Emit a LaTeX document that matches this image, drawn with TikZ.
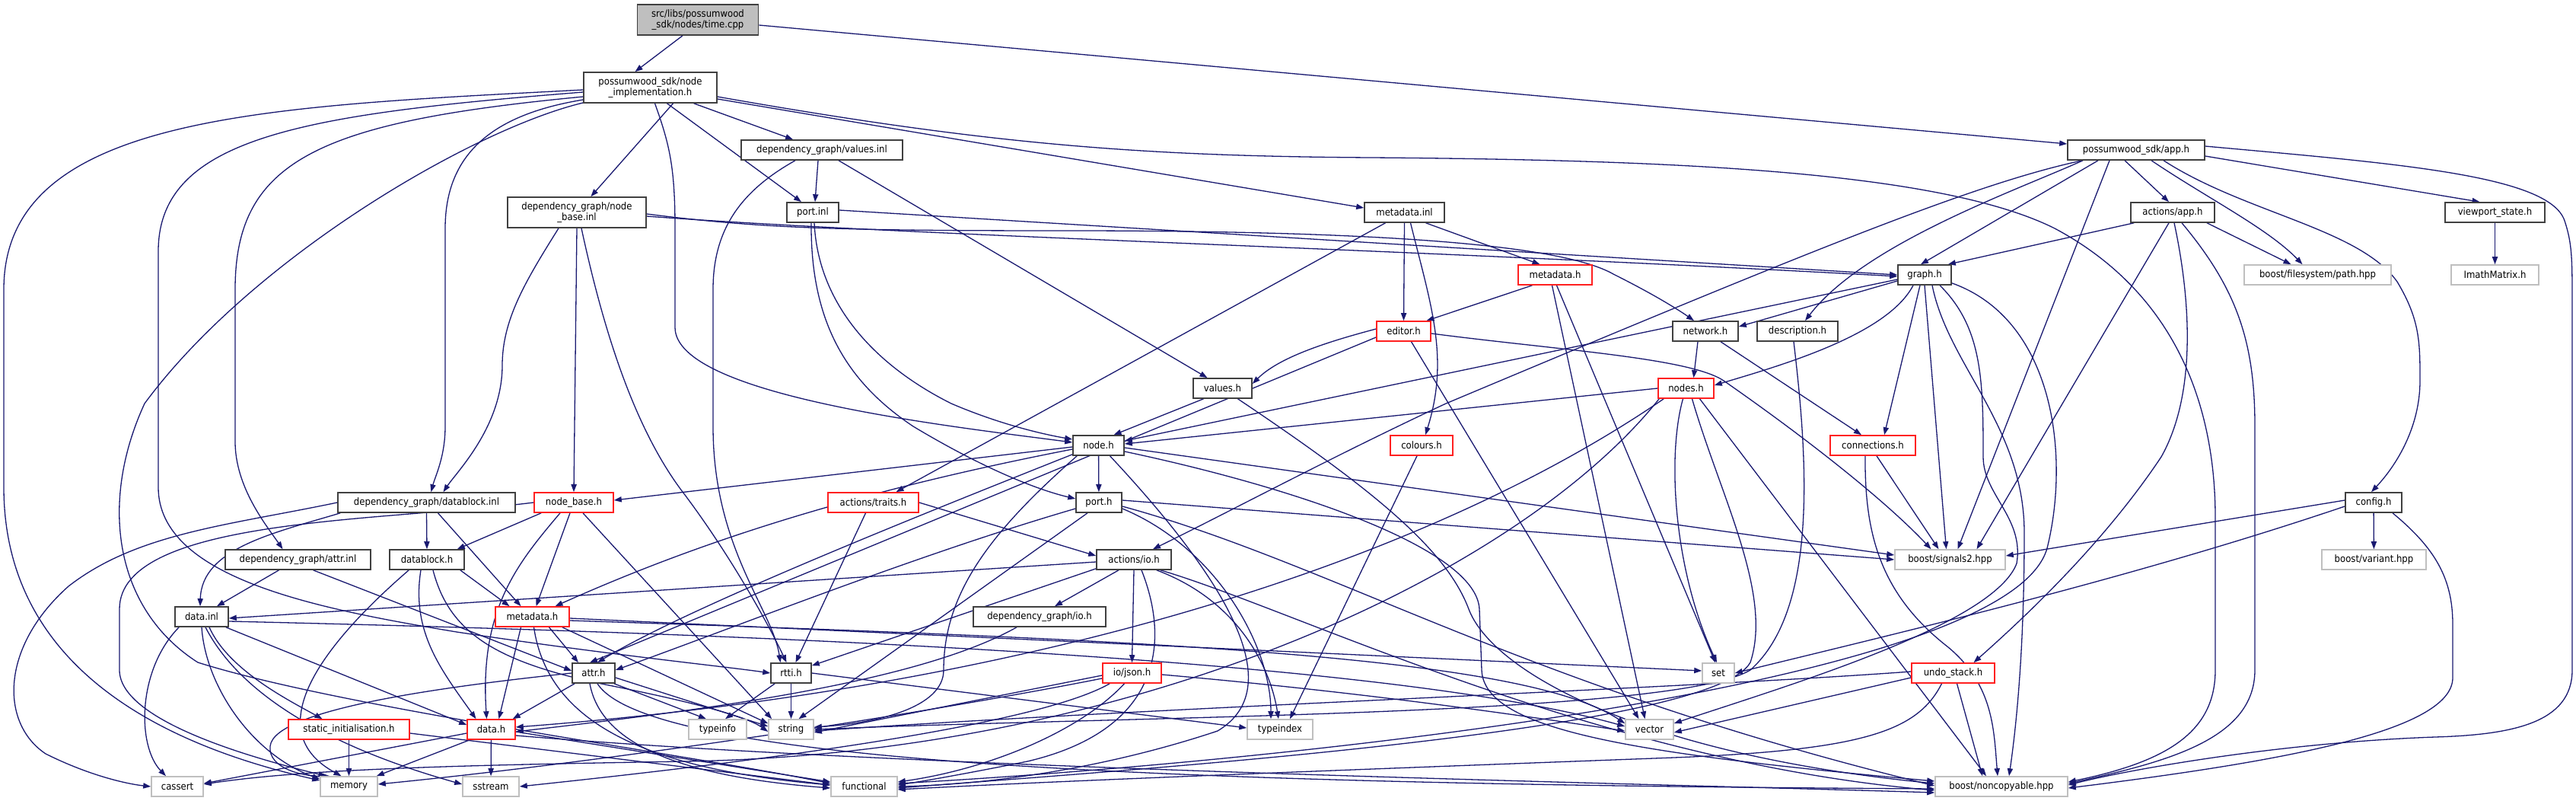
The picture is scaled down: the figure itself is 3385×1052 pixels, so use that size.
\documentclass[tikz,border=0pt]{standalone}
\usepackage{fontspec}
\setmainfont{DejaVu Sans Condensed}
\usetikzlibrary{arrows.meta,calc}
\definecolor{edgec}{HTML}{191970}
\definecolor{redb}{HTML}{FF2020}
\definecolor{grayb}{HTML}{BFBFBF}
\definecolor{darkb}{HTML}{404040}
\definecolor{fillg}{HTML}{BFBFBF}
\pgfdeclarelayer{bg}
\pgfsetlayers{bg,main}
\tikzset{
  bx/.style={draw=darkb, line width=0.8pt, fill=white, inner sep=0pt, minimum height=13pt, align=center, font=\fontsize{6.5}{7.1}\selectfont},
  rbx/.style={bx, draw=redb},
  gbx/.style={bx, draw=grayb},
  tall/.style={minimum height=20pt},
  ed/.style={draw=edgec, line width=0.65pt, -{Triangle[length=5pt,width=3.6pt]}},
}
\begin{document}
\begin{tikzpicture}[x=0.5pt,y=-0.5pt]
\useasboundingbox (0,0) rectangle (3385,1052);
% nodes
\node[bx,tall,fill=fillg,minimum width=79.5pt] (time) at (917,26) {src/libs/possumwood\\\_sdk/nodes/time.cpp};
\node[bx,tall,minimum width=87.5pt] (nimpl) at (854.5,115) {possumwood\_sdk/node\\\_implementation.h};
\node[bx,minimum width=106pt] (valinl) at (1080,197) {dependency\_graph/values.inl};
\node[bx,minimum width=34pt] (portinl) at (1068,279) {port.inl};
\node[bx,tall,minimum width=91pt] (nbinl) at (758,279) {dependency\_graph/node\\\_base.inl};
\node[bx,minimum width=52.5pt] (mdinl) at (1845.5,279) {metadata.inl};
\node[rbx,minimum width=48.5pt] (mdsdk) at (2043.5,361) {metadata.h};
\node[rbx,minimum width=35.5pt] (editor) at (1844.5,435) {editor.h};
\node[bx,minimum width=43pt] (network) at (2241,435) {network.h};
\node[bx,minimum width=53pt] (descr) at (2362,435) {description.h};
\node[bx,minimum width=35pt] (graph) at (2529,361) {graph.h};
\node[rbx,minimum width=36.5pt] (nodes) at (2215.5,510) {nodes.h};
\node[bx,minimum width=90pt] (app) at (2807,197) {possumwood\_sdk/app.h};
\node[bx,minimum width=55pt] (actapp) at (2855,279) {actions/app.h};
\node[gbx,minimum width=96.5pt] (path) at (3045.5,361) {boost/filesystem/path.hpp};
\node[bx,minimum width=65.5pt] (viewport) at (3278.5,279) {viewport\_state.h};
\node[gbx,minimum width=57.5pt] (imath) at (3278.5,361) {ImathMatrix.h};
\node[bx,minimum width=38.5pt] (valh) at (1606.5,510) {values.h};
\node[bx,minimum width=116.5pt] (dbinl) at (560.5,660) {dependency\_graph/datablock.inl};
\node[rbx,minimum width=52pt] (nbh) at (754,660) {node\_base.h};
\node[bx,minimum width=95.5pt] (attrinl) at (391.5,735) {dependency\_graph/attr.inl};
\node[bx,minimum width=49pt] (dbh) at (561,735) {datablock.h};
\node[bx,minimum width=35pt] (datainl) at (265,810) {data.inl};
\node[rbx,minimum width=48.5pt] (mddg) at (699.5,810) {metadata.h};
\node[bx,minimum width=28pt] (attrh) at (780,884) {attr.h};
\node[rbx,minimum width=79.5pt] (statinit) at (458.5,958) {static\_initialisation.h};
\node[rbx,minimum width=31.5pt] (datah) at (645.5,958) {data.h};
\node[gbx,minimum width=34pt] (cassert) at (233,1033) {cassert};
\node[gbx,minimum width=37.5pt] (memory) at (458.5,1033) {memory};
\node[gbx,minimum width=37pt] (sstream) at (645,1033) {sstream};
\node[bx,minimum width=33.5pt] (nodeh) at (1443.5,585) {node.h};
\node[rbx,minimum width=59.5pt] (traits) at (1147.5,660) {actions/traits.h};
\node[bx,minimum width=30pt] (porth) at (1444,660) {port.h};
\node[bx,minimum width=49pt] (actio) at (1490,735) {actions/io.h};
\node[bx,minimum width=87pt] (dgio) at (1366,810) {dependency\_graph/io.h};
\node[bx,minimum width=26.5pt] (rtti) at (1039.5,884) {rtti.h};
\node[rbx,minimum width=38.5pt] (json) at (1487.5,884) {io/json.h};
\node[gbx,minimum width=38pt] (typeinfo) at (943,958) {typeinfo};
\node[gbx,minimum width=29.5pt] (string) at (1039.5,958) {string};
\node[gbx,minimum width=43pt] (typeindex) at (1682,958) {typeindex};
\node[gbx,minimum width=43.5pt] (functional) at (1135.5,1033) {functional};
\node[rbx,minimum width=41pt] (colours) at (1868,585) {colours.h};
\node[rbx,minimum width=56pt] (conn) at (2461,585) {connections.h};
\node[gbx,minimum width=72.5pt] (signals) at (2562.5,735) {boost/signals2.hpp};
\node[gbx,minimum width=21pt] (set) at (2258,884) {set};
\node[gbx,minimum width=31.5pt] (vector) at (2167.5,958) {vector};
\node[rbx,minimum width=54.5pt] (undo) at (2566.5,884) {undo\_stack.h};
\node[gbx,minimum width=87pt] (noncop) at (2630,1033) {boost/noncopyable.hpp};
\node[bx,minimum width=37pt] (config) at (3119,660) {config.h};
\node[gbx,minimum width=68.5pt] (variant) at (3119.5,735) {boost/variant.hpp};

\begin{pgfonlayer}{bg}
% time.cpp
\draw[ed] ($(time.south)+(-20,0)$) -- ($(nimpl.north)+(-20,0)$);
\draw[ed] ($(time.east)+(0,7)$) -- ($(app.west)+(0,-8)$);
% node_implementation.h
\draw[ed] (nimpl) -- (valinl);
\draw[ed] ($(nimpl.south)+(22,0)$) -- ($(portinl.north)+(-15,0)$);
\draw[ed] ($(nimpl.south)+(30,0)$) -- (nbinl);
\draw[ed] ($(nimpl.east)+(0,15)$) -- ($(mdinl.west)+(0,-6)$);
\draw[ed] ($(nimpl.west)+(0,16)$) .. controls (650,150) and (585,200) .. (585,300) -- (585,560) .. controls (585,600) and (572,625) .. ($(dbinl.north)+(6,0)$);
\draw[ed] ($(nimpl.west)+(0,12)$) .. controls (420,160) and (309,210) .. (309,380) -- (309,580) .. controls (309,640) and (350,690) .. ($(attrinl.north)+(-20,0)$);
\draw[ed] ($(nimpl.west)+(0,3)$) .. controls (350,140) and (5,150) .. (5,380) -- (5,640) .. controls (5,880) and (220,980) .. ($(memory.west)+(0,-8)$);
\draw[ed] ($(nimpl.west)+(0,20)$) .. controls (620,170) and (330,340) .. (190,530) .. controls (130,660) and (150,800) .. (260,870) .. controls (450,930) and (900,990) .. ($(functional.west)+(0,-4)$);
\draw[ed] ($(nimpl.west)+(0,6)$) .. controls (400,150) and (208,180) .. (208,330) -- (208,640) .. controls (208,760) and (420,800) .. (600,830) .. controls (800,860) and (950,875) .. (rtti.west);
\draw[ed] ($(nimpl.south)+(6,0)$) .. controls (880,190) and (887,220) .. (887,300) -- (887,430) .. controls (887,520) and (1250,560) .. ($(nodeh.west)+(0,-4)$);
\draw[ed] ($(nimpl.east)+(0,12)$) .. controls (1300,190) and (1500,205) .. (1800,207) .. controls (2200,210) and (2550,225) .. (2700,300) .. controls (2850,380) and (2911,520) .. (2911,680) -- (2911,880) .. controls (2911,960) and (2850,1000) .. ($(noncop.east)+(0,-6)$);
% values.inl
\draw[ed] ($(valinl.south)+(-5,0)$) -- ($(portinl.north)+(3,0)$);
\draw[ed] ($(valinl.south)+(22,0)$) -- ($(valh.north)+(-20,0)$);
\draw[ed] ($(valinl.south)+(-35,0)$) .. controls (975,250) and (937,300) .. (937,380) -- (937,560) .. controls (937,720) and (1015,800) .. ($(rtti.north)+(-14,0)$);
% port.inl
\draw[ed] ($(portinl.east)+(0,-3)$) -- (graph.west);
\draw[ed] ($(portinl.south)+(2,0)$) .. controls (1075,400) and (1150,480) .. (1250,530) .. controls (1320,560) and (1380,572) .. ($(nodeh.west)+(0,-8)$);
\draw[ed] ($(portinl.south)+(-2,0)$) .. controls (1065,420) and (1110,500) .. (1200,560) .. controls (1300,620) and (1370,645) .. ($(porth.west)+(0,-5)$);
% node_base.inl
\draw[ed] ($(nbinl.south)+(-24,0)$) .. controls (690,370) and (660,420) .. (660,480) .. controls (660,560) and (600,620) .. ($(dbinl.north)+(22,0)$);
\draw[ed] (nbinl.south) -- (nbh.north);
\draw[ed] ($(nbinl.south)+(6,0)$) .. controls (790,420) and (830,560) .. (900,650) .. controls (960,730) and (1010,820) .. ($(rtti.north)+(-6,0)$);
\draw[ed] ($(nbinl.east)+(0,5)$) .. controls (1200,310) and (1800,325) .. ($(graph.west)+(0,2)$);
\draw[ed] ($(nbinl.east)+(0,2)$) .. controls (1000,300) and (1100,303) .. (1400,303) .. controls (1800,303) and (2050,320) .. (2120,360) .. controls (2180,390) and (2210,410) .. ($(network.north)+(-15,0)$);
% metadata.inl
\draw[ed] (mdinl.south) -- (editor.north);
\draw[ed] ($(mdinl.south)+(28,0)$) -- ($(mdsdk.north)+(-20,0)$);
\draw[ed] ($(mdinl.south)+(8,0)$) .. controls (1880,400) and (1905,470) .. ($(colours.north)+(5,0)$);
\draw[ed] ($(mdinl.south)+(-25,0)$) -- ($(traits.north)+(30,0)$);
% metadata.h (sdk)
\draw[ed] ($(mdsdk.south)+(-30,0)$) -- ($(editor.north)+(30,0)$);
\draw[ed] ($(mdsdk.south)+(-4,0)$) -- ($(vector.north)+(-6,0)$);
\draw[ed] ($(mdsdk.south)+(2,0)$) -- ($(set.north)+(-4,0)$);
% editor.h
\draw[ed] ($(editor.west)+(0,-3)$) .. controls (1740,450) and (1680,470) .. ($(valh.east)+(0,-6)$);
\draw[ed] ($(editor.west)+(0,8)$) -- ($(attrh.north)+(-5,0)$);
\draw[ed] ($(editor.south)+(10,0)$) -- ($(vector.north)+(-14,0)$);
\draw[ed] ($(editor.east)+(0,3)$) .. controls (2050,460) and (2220,470) .. (2265,500) .. controls (2380,580) and (2480,660) .. ($(signals.north)+(-25,0)$);
% values.h
\draw[ed] ($(valh.south)+(-25,0)$) -- ($(nodeh.north)+(20,0)$);
\draw[ed] ($(valh.south)+(20,0)$) .. controls (1800,640) and (1900,720) .. (1930,800) .. controls (1960,880) and (2150,990) .. ($(noncop.west)+(0,-4)$);
% app.h
\draw[ed] ($(app.south)+(-15,0)$) -- ($(actapp.north)+(-5,0)$);
\draw[ed] ($(app.east)+(0,8)$) -- ($(viewport.north)+(-20,0)$);
\draw[ed] ($(app.south)+(-50,0)$) -- ($(graph.north)+(-5,0)$);
\draw[ed] ($(app.south)+(20,0)$) .. controls (2900,260) and (2980,300) .. ($(path.north)+(-20,0)$);
\draw[ed] ($(app.south)+(-35,0)$) -- ($(signals.north)+(10,0)$);
\draw[ed] ($(app.east)+(0,-5)$) .. controls (3150,215) and (3350,230) .. (3370,290) .. controls (3380,320) and (3380,340) .. (3380,400) -- (3380,880) .. controls (3380,950) and (3300,965) .. (3200,968) .. controls (3000,975) and (2800,1010) .. ($(noncop.east)+(0,-2)$);
\draw[ed] ($(app.south)+(36,0)$) .. controls (2950,280) and (3100,300) .. (3150,370) .. controls (3180,420) and (3180,450) .. (3180,500) .. controls (3180,560) and (3150,610) .. ($(config.north)+(-3,0)$);
\draw[ed] ($(app.south)+(-70,0)$) .. controls (2650,250) and (2450,320) .. ($(descr.north)+(10,0)$);
\draw[ed] ($(app.south west)+(20,0)$) .. controls (2600,240) and (2400,320) .. (1900,530) .. controls (1750,600) and (1600,680) .. ($(actio.north)+(25,0)$);
% actions/app.h
\draw[ed] ($(actapp.south west)+(5,0)$) -- ($(graph.north east)+(-5,0)$);
\draw[ed] ($(actapp.south)+(45,0)$) -- ($(path.north)+(-35,0)$);
\draw[ed] ($(actapp.south)+(-5,0)$) -- ($(signals.north)+(35,0)$);
\draw[ed] ($(actapp.south)+(2,0)$) .. controls (2880,400) and (2885,520) .. (2840,600) .. controls (2760,720) and (2650,820) .. ($(undo.north)+(27,0)$);
\draw[ed] ($(actapp.south)+(12,0)$) .. controls (2940,380) and (2963,450) .. (2963,560) -- (2963,880) .. controls (2963,970) and (2850,1000) .. ($(noncop.east)+(0,-4)$);
% viewport
\draw[ed] (viewport) -- (imath);
% config
\draw[ed] ($(config.west)+(0,-3)$) -- ($(signals.east)+(0,-5)$);
\draw[ed] ($(config.west)+(0,5)$) .. controls (2800,760) and (2500,830) .. (set.east);
\draw[ed] (config) -- (variant);
\draw[ed] ($(config.south)+(25,0)$) .. controls (3200,720) and (3223,760) .. (3223,820) -- (3223,890) .. controls (3223,960) and (3000,1000) .. ($(noncop.east)+(0,2)$);
% graph.h
\draw[ed] ($(graph.west)+(0,8)$) -- ($(network.east)+(0,-6)$);
\draw[ed] ($(graph.south)+(-15,0)$) .. controls (2480,440) and (2340,480) .. ($(nodes.east)+(0,-4)$);
\draw[ed] ($(graph.west)+(0,6)$) -- ($(nodeh.east)+(0,-6)$);
\draw[ed] ($(graph.south)+(-6,0)$) -- ($(conn.north)+(15,0)$);
\draw[ed] ($(graph.south)+(0,0)$) -- ($(signals.north)+(-5,0)$);
\draw[ed] ($(graph.south)+(20,0)$) .. controls (2605,430) and (2606,500) .. (2606,600) .. controls (2606,650) and (2660,680) .. (2650,740) .. controls (2620,820) and (2350,900) .. ($(vector.east)+(0,-8)$);
\draw[ed] ($(graph.south)+(10,0)$) .. controls (2560,480) and (2660,560) .. (2660,700) .. controls (2660,850) and (2650,950) .. ($(noncop.north)+(10,0)$);
\draw[ed] ($(graph.south east)+(0,-3)$) .. controls (2700,420) and (2720,600) .. (2690,720) .. controls (2640,900) and (1700,1000) .. ($(functional.east)+(0,-4)$);
% network.h
\draw[ed] ($(network.south)+(-10,0)$) -- ($(nodes.north)+(10,0)$);
\draw[ed] ($(network.south)+(20,0)$) -- ($(conn.north)+(-15,0)$);
% description.h
\draw[ed] ($(descr.south)+(-5,0)$) .. controls (2375,600) and (2390,800) .. (2300,880) .. controls (2200,940) and (1500,940) .. (string.east);
% nodes.h
\draw[ed] (nodes.west) -- ($(nodeh.east)+(0,-2)$);
\draw[ed] ($(nodes.south west)+(8,0)$) .. controls (1900,720) and (1400,900) .. ($(datah.east)+(0,-3)$);
\draw[ed] ($(nodes.south)+(-4,0)$) .. controls (2190,600) and (2200,750) .. ($(set.north)+(-2,0)$);
\draw[ed] ($(nodes.south)+(8,0)$) .. controls (2260,650) and (2330,780) .. (2300,870) .. controls (2250,960) and (1500,1010) .. ($(functional.east)+(0,2)$);
\draw[ed] ($(nodes.south)+(18,0)$) -- ($(noncop.north)+(-20,0)$);
\draw[ed] ($(nodes.south west)+(2,0)$) .. controls (2000,750) and (1500,990) .. (900,1000) .. controls (600,1005) and (400,1010) .. ($(cassert.east)+(0,-3)$);
% connections
\draw[ed] ($(conn.south)+(5,0)$) -- ($(signals.north)+(-15,0)$);
\draw[ed] ($(conn.south)+(-10,0)$) .. controls (2450,700) and (2470,780) .. (2560,850) .. controls (2620,900) and (2620,960) .. ($(noncop.north)+(-5,0)$);
% colours
\draw[ed] ($(colours.south)+(-6,0)$) -- ($(typeindex.north)+(13,0)$);
% undo_stack
\draw[ed] ($(undo.west)+(0,-2)$) .. controls (2200,905) and (1500,930) .. ($(string.east)+(0,2)$);
\draw[ed] ($(undo.west)+(0,6)$) -- ($(vector.east)+(0,4)$);
\draw[ed] ($(undo.south)+(-15,0)$) .. controls (2520,960) and (2450,985) .. (2200,995) .. controls (1800,1010) and (1400,1025) .. ($(functional.east)+(0,4)$);
\draw[ed] ($(undo.south)+(5,0)$) -- ($(noncop.north)+(-25,0)$);
% node.h
\draw[ed] (nodeh) -- (porth);
\draw[ed] ($(nodeh.west)+(0,2)$) -- ($(nbh.east)+(0,-3)$);
\draw[ed] ($(nodeh.west)+(0,5)$) .. controls (1100,650) and (900,720) .. ($(mddg.north)+(30,0)$);
\draw[ed] ($(nodeh.south west)+(0,-2)$) .. controls (1200,680) and (900,800) .. ($(attrh.north)+(5,0)$);
\draw[ed] ($(nodeh.south west)+(6,0)$) .. controls (1300,700) and (1240,780) .. (1240,880) .. controls (1240,930) and (1150,950) .. ($(string.east)+(0,-3)$);
\draw[ed] ($(nodeh.east)+(0,3)$) -- ($(signals.west)+(0,-6)$);
\draw[ed] ($(nodeh.east)+(0,8)$) .. controls (1700,640) and (1940,720) .. (1944,800) -- (1947,880) .. controls (1950,960) and (2150,990) .. ($(noncop.west)+(0,-7)$);
\draw[ed] ($(nodeh.south)+(15,0)$) .. controls (1600,750) and (1700,900) .. (1600,960) .. controls (1450,1010) and (1300,1030) .. (functional.east);
% port.h
\draw[ed] ($(porth.west)+(0,8)$) .. controls (1200,730) and (950,830) .. ($(attrh.east)+(0,-4)$);
\draw[ed] ($(porth.south)+(-15,0)$) -- ($(string.north)+(10,0)$);
\draw[ed] ($(porth.east)+(0,-3)$) -- ($(signals.west)+(0,0)$);
\draw[ed] ($(porth.east)+(0,8)$) .. controls (1600,720) and (1670,850) .. ($(typeindex.north)+(-12,0)$);
\draw[ed] ($(porth.east)+(0,5)$) .. controls (1750,740) and (2000,900) .. ($(noncop.west)+(0,-1)$);
% actions/traits.h
\draw[ed] ($(traits.south)+(-10,0)$) -- ($(rtti.north)+(6,0)$);
\draw[ed] (traits.east) -- ($(actio.west)+(0,-5)$);
% actions/io.h
\draw[ed] ($(actio.west)+(0,3)$) -- ($(datainl.east)+(0,2)$);
\draw[ed] ($(actio.south west)+(0,-2)$) -- ($(rtti.north east)+(0,4)$);
\draw[ed] ($(actio.south)+(-20,0)$) -- ($(dgio.north)+(20,0)$);
\draw[ed] (actio.south) -- (json.north);
\draw[ed] ($(actio.south)+(10,0)$) .. controls (1540,850) and (1520,960) .. (1350,1000) .. controls (1250,1020) and (1200,1028) .. ($(functional.east)+(0,-2)$);
\draw[ed] ($(actio.south east)+(-20,0)$) .. controls (1630,790) and (1670,880) .. ($(typeindex.north)+(-2,0)$);
\draw[ed] ($(actio.south east)+(-15,0)$) .. controls (1700,800) and (2100,1000) .. ($(noncop.west)+(0,5)$);
% dependency_graph/io.h
\draw[ed] ($(dgio.south)+(-30,0)$) .. controls (1200,900) and (900,935) .. ($(datah.east)+(0,3)$);
% io/json.h
\draw[ed] ($(json.west)+(0,3)$) -- ($(string.east)+(0,4)$);
\draw[ed] ($(json.west)+(0,7)$) .. controls (1200,940) and (800,1000) .. ($(memory.east)+(0,-3)$);
\draw[ed] ($(json.south west)+(10,0)$) .. controls (1350,960) and (900,1010) .. (sstream.east);
\draw[ed] ($(json.south)+(-10,0)$) .. controls (1420,960) and (1300,1010) .. ($(functional.east)+(0,-6)$);
\draw[ed] ($(json.east)+(0,2)$) .. controls (1800,910) and (2000,940) .. ($(vector.west)+(0,2)$);
% rtti.h
\draw[ed] (rtti) -- (string);
\draw[ed] ($(rtti.south west)+(6,0)$) -- ($(typeinfo.north)+(10,0)$);
\draw[ed] ($(rtti.east)+(0,0)$) -- ($(typeindex.west)+(0,-2)$);
% attr.h
\draw[ed] ($(attrh.south west)+(4,0)$) -- ($(datah.north east)+(-4,0)$);
\draw[ed] (attrh.west) .. controls (600,900) and (360,930) .. (355,980) .. controls (352,1010) and (400,1020) .. ($(memory.north)+(-25,0)$);
\draw[ed] ($(attrh.south east)+(-2,0)$) -- ($(typeinfo.north)+(-15,0)$);
\draw[ed] ($(attrh.east)+(0,6)$) -- ($(string.west)+(0,-4)$);
\draw[ed] ($(attrh.south)+(-5,0)$) .. controls (790,980) and (900,1020) .. ($(functional.west)+(0,2)$);
\draw[ed] ($(attrh.south)+(5,0)$) .. controls (850,1000) and (1500,1030) .. ($(noncop.west)+(0,3)$);
% metadata.h (dg)
\draw[ed] ($(mddg.south)+(22,0)$) -- ($(attrh.north)+(-20,0)$);
\draw[ed] ($(mddg.south)+(-15,0)$) -- ($(datah.north)+(10,0)$);
\draw[ed] ($(mddg.south)+(2,0)$) .. controls (720,950) and (850,1010) .. ($(functional.west)+(0,-2)$);
\draw[ed] ($(mddg.south east)+(-10,0)$) -- ($(string.north west)+(0,6)$);
\draw[ed] ($(mddg.east)+(0,2)$) -- ($(set.west)+(0,-3)$);
\draw[ed] ($(mddg.east)+(0,5)$) .. controls (1500,840) and (2000,860) .. ($(vector.north west)+(0,6)$);
% data.inl
\draw[ed] ($(datainl.south east)+(-4,0)$) -- ($(datah.west)+(0,-6)$);
\draw[ed] ($(datainl.south)+(10,0)$) .. controls (300,880) and (380,920) .. ($(statinit.north)+(-35,0)$);
\draw[ed] ($(datainl.south west)+(6,0)$) .. controls (180,880) and (180,980) .. ($(cassert.north)+(-15,0)$);
\draw[ed] ($(datainl.south)+(0,0)$) .. controls (270,900) and (330,990) .. ($(memory.north west)+(0,4)$);
\draw[ed] ($(datainl.south)+(5,0)$) .. controls (330,940) and (500,1000) .. ($(sstream.west)+(0,-3)$);
\draw[ed] ($(datainl.east)+(0,6)$) .. controls (900,830) and (1800,860) .. ($(vector.west)+(0,-4)$);
% static_initialisation.h
\draw[ed] (statinit) -- (memory);
\draw[ed] ($(statinit.east)+(0,5)$) -- ($(functional.west)+(0,-2)$);
% data.h
\draw[ed] ($(datah.west)+(0,5)$) -- ($(cassert.east)+(0,-4)$);
\draw[ed] ($(datah.south west)+(4,0)$) -- ($(memory.north east)+(-2,0)$);
\draw[ed] (datah) -- (sstream);
\draw[ed] ($(datah.east)+(0,3)$) -- ($(functional.west)+(0,-6)$);
\draw[ed] ($(datah.east)+(0,8)$) .. controls (1200,1010) and (2200,1030) .. ($(noncop.west)+(0,8)$);
% datablock.inl
\draw[ed] (dbinl.south) -- (dbh.north);
\draw[ed] ($(dbinl.south west)+(4,0)$) .. controls (360,700) and (265,720) .. ($(datainl.north)+(-2,0)$);
\draw[ed] ($(dbinl.south)+(15,0)$) -- ($(mddg.north)+(-15,0)$);
\draw[ed] (dbinl.west) .. controls (300,690) and (180,700) .. (90,770) .. controls (0,850) and (0,950) .. (60,990) .. controls (120,1020) and (170,1030) .. (cassert.west);
% datablock.h
\draw[ed] ($(dbh.south east)+(-6,0)$) -- ($(mddg.north)+(-30,0)$);
\draw[ed] ($(dbh.south)+(-8,0)$) .. controls (540,830) and (580,880) .. ($(datah.north)+(-20,0)$);
\draw[ed] ($(dbh.south west)+(26,0)$) .. controls (420,850) and (340,960) .. ($(memory.north)+(-10,0)$);
\draw[ed] ($(dbh.south)+(8,0)$) .. controls (590,830) and (650,870) .. (800,900) .. controls (900,920) and (980,940) .. ($(string.west)+(0,3)$);
% node_base.h
\draw[ed] ($(nbh.south west)+(10,0)$) -- ($(dbh.north east)+(-10,0)$);
\draw[ed] ($(nbh.south)+(-5,0)$) -- ($(mddg.north)+(5,0)$);
\draw[ed] ($(nbh.south)+(-18,0)$) .. controls (680,740) and (630,800) .. ($(datah.north)+(-6,0)$);
\draw[ed] ($(nbh.south)+(12,0)$) -- ($(string.north west)+(5,0)$);
\draw[ed] (nbh.west) .. controls (500,685) and (157,680) .. (157,800) -- (157,880) .. controls (157,950) and (350,1000) .. ($(memory.north)+(-30,0)$);
% attr.inl
\draw[ed] ($(attrinl.south)+(-25,0)$) -- ($(datainl.north)+(20,0)$);
\draw[ed] ($(attrinl.south)+(20,0)$) -- ($(attrh.west)+(0,-3)$);
\end{pgfonlayer}
\end{tikzpicture}
\end{document}
